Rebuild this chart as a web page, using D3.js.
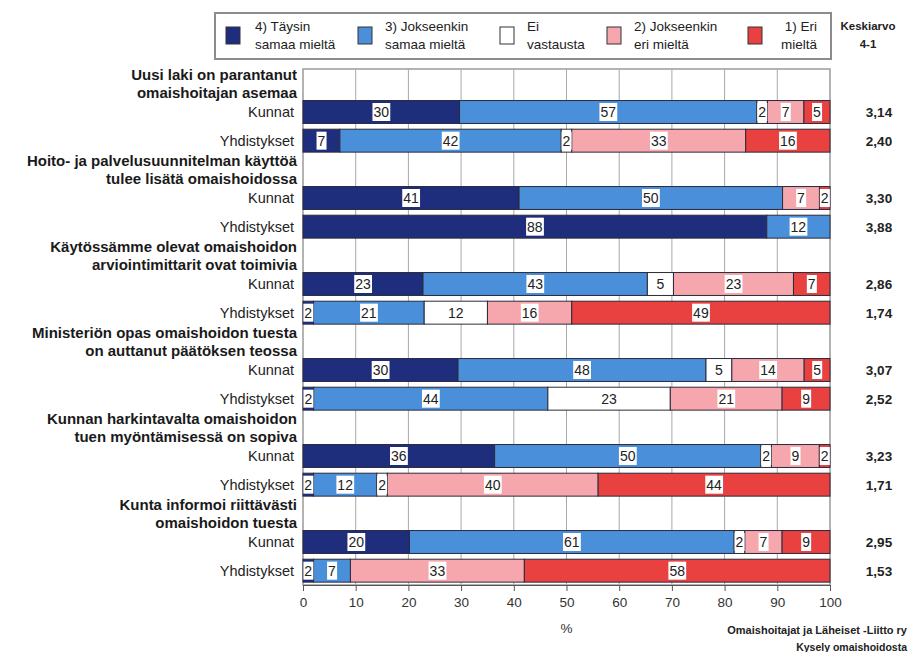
<!DOCTYPE html>
<html>
<head>
<meta charset="utf-8">
<script src="https://cdn.jsdelivr.net/npm/d3@7"></script>
<style>
  body { margin: 0; background: #fff; }
  text { font-family: "Liberation Sans", Arial, sans-serif; }
</style>
</head>
<body>
<svg id="chart" width="918" height="652"></svg>
<script>
// Statements (two-line titles), respondent groups and answer categories
const statements = [
  ["Uusi laki on parantanut", "omaishoitajan asemaa"],
  ["Hoito- ja palvelusuunnitelman käyttöä", "tulee lisätä omaishoidossa"],
  ["Käytössämme olevat omaishoidon", "arviointimittarit ovat toimivia"],
  ["Ministeriön opas omaishoidon tuesta", "on auttanut päätöksen teossa"],
  ["Kunnan harkintavalta omaishoidon", "tuen myöntämisessä on sopiva"],
  ["Kunta informoi riittävästi", "omaishoidon tuesta"]
];
const respondents = ["Kunnat", "Yhdistykset"];

const answerKeys = ["a4", "a3", "ei", "a2", "a1"];
const answerLabels = [
  ["4) Täysin", "samaa mieltä"],
  ["3) Jokseenkin", "samaa mieltä"],
  ["Ei", "vastausta"],
  ["2) Jokseenkin", "eri mieltä"],
  ["1) Eri", "mieltä"]
];
const answerColors = ["#1e2e7d", "#4a8fd9", "#ffffff", "#f6a6ad", "#e8413f"];

// Shares (%) per bar, in order: statement 1 Kunnat, statement 1 Yhdistykset, ...
const fullyAgree       = [30,  7, 41, 88, 23,  2, 30,  2, 36,  2, 20,  2];
const somewhatAgree    = [57, 42, 50, 12, 43, 21, 48, 44, 50, 12, 61,  7];
const noAnswer         = [ 2,  2,  0,  0,  5, 12,  5, 23,  2,  2,  2,  0];
const somewhatDisagree = [ 7, 33,  7,  0, 23, 16, 14, 21,  9, 40,  7, 33];
const disagree         = [ 5, 16,  2,  0,  7, 49,  5,  9,  2, 44,  9, 58];
const averages = ["3,14", "2,40", "3,30", "3,88", "2,86", "1,74",
                  "3,07", "2,52", "3,23", "1,71", "2,95", "1,53"];

const xTicks = [0, 10, 20, 30, 40, 50, 60, 70, 80, 90, 100];

// ---- layout ----
const svg = d3.select("#chart");
const plot = { left: 303, right: 830, top: 69, bottom: 585 };

const x = d3.scaleLinear().domain([0, 100]).range([plot.left, plot.right]);
// three slots per statement: title line, Kunnat bar, Yhdistykset bar
const y = d3.scaleBand()
  .domain(d3.range(statements.length * 3))
  .range([plot.top, plot.bottom]);
const barH = y.bandwidth() * 0.8;

const rows = [];
statements.forEach((s, i) => {
  respondents.forEach((r, j) => {
    const k = i * 2 + j;
    rows.push({
      statement: i, respondent: r, slot: i * 3 + 1 + j, avg: averages[k],
      a4: fullyAgree[k], a3: somewhatAgree[k], ei: noAnswer[k],
      a2: somewhatDisagree[k], a1: disagree[k]
    });
  });
});

const series = d3.stack().keys(answerKeys).offset(d3.stackOffsetExpand)(rows);

// ---- legend ----
const legend = svg.append("g");
legend.append("rect")
  .attr("x", 215).attr("y", 13).attr("width", 616).attr("height", 46)
  .attr("fill", "#fff").attr("stroke", "#8c8c8c").attr("stroke-width", 2);
const legendX = [226, 358, 500, 607, 748];
answerKeys.forEach((k, i) => {
  const g = legend.append("g").attr("transform", `translate(${legendX[i]},0)`);
  g.append("rect").attr("x", 0).attr("y", 27).attr("width", 14).attr("height", 17)
    .attr("fill", answerColors[i]).attr("stroke", "#333").attr("stroke-width", 1);
  const t = g.append("text").attr("font-size", 13.5).attr("fill", "#222");
  const anchorEnd = i === 4;
  t.attr("text-anchor", anchorEnd ? "end" : "start");
  answerLabels[i].forEach((line, li) => {
    t.append("tspan").attr("x", anchorEnd ? 69 : (i === 0 ? 29 : 27))
      .attr("y", 31 + li * 18).text(line);
  });
});
svg.append("text").attr("x", 868).attr("y", 30).attr("text-anchor", "middle")
  .attr("font-size", 11.5).attr("font-weight", "bold").attr("fill", "#222").text("Keskiarvo");
svg.append("text").attr("x", 868).attr("y", 48).attr("text-anchor", "middle")
  .attr("font-size", 11.5).attr("font-weight", "bold").attr("fill", "#222").text("4-1");

// ---- plot background, grid ----
svg.append("rect")
  .attr("x", plot.left).attr("y", plot.top)
  .attr("width", plot.right - plot.left).attr("height", plot.bottom - plot.top)
  .attr("fill", "#fff").attr("stroke", "#9a9a9a").attr("stroke-width", 1.5);
svg.append("g").selectAll("line")
  .data(xTicks.slice(1, -1))
  .join("line")
  .attr("x1", d => x(d)).attr("x2", d => x(d))
  .attr("y1", plot.top).attr("y2", plot.bottom)
  .attr("stroke", "#a8a8a8").attr("stroke-width", 1);

// ---- bars ----
const barsG = svg.append("g");
series.forEach((s, si) => {
  barsG.append("g").selectAll("rect")
    .data(s.filter(d => d[1] > d[0]))
    .join("rect")
    .attr("x", d => x(d[0] * 100))
    .attr("width", d => x(d[1] * 100) - x(d[0] * 100))
    .attr("y", d => y(d.data.slot) + (y.bandwidth() - barH) / 2)
    .attr("height", barH)
    .attr("fill", answerColors[si])
    .attr("stroke", "#2b2b3a").attr("stroke-width", 1);
});

// value labels in white boxes
const labelsG = svg.append("g");
series.forEach((s, si) => {
  s.forEach(d => {
    const v = d.data[s.key];
    if (!v) return;
    const cx = x((d[0] + d[1]) / 2 * 100);
    const cy = y(d.data.slot) + y.bandwidth() / 2;
    const g = labelsG.append("g");
    const t = g.append("text").attr("x", cx).attr("y", cy + 5)
      .attr("text-anchor", "middle").attr("font-size", 14).attr("fill", "#222").text(v);
    const bb = t.node().getBBox();
    g.insert("rect", "text")
      .attr("x", bb.x - 1).attr("y", cy - 9).attr("width", bb.width + 2).attr("height", 18)
      .attr("fill", "#fff");
  });
});

// ---- y labels ----
const labG = svg.append("g").attr("fill", "#1a1a1a");
statements.forEach((s, i) => {
  const cy = y(i * 3) + y.bandwidth() / 2;
  s.forEach((line, li) => {
    labG.append("text").attr("x", 297).attr("y", cy - 3.5 + li * 18)
      .attr("text-anchor", "end").attr("font-size", 15).attr("font-weight", "bold")
      .text(line);
  });
});
rows.forEach(r => {
  const cy = y(r.slot) + y.bandwidth() / 2;
  labG.append("text").attr("x", 294).attr("y", cy + 5)
    .attr("text-anchor", "end").attr("font-size", 14.5).attr("fill", "#222").text(r.respondent);
  labG.append("text").attr("x", 879).attr("y", cy + 5)
    .attr("text-anchor", "middle").attr("font-size", 13.5).attr("font-weight", "bold")
    .attr("fill", "#222").text(r.avg);
});

// ---- x axis ----
const axis = svg.append("g").attr("transform", `translate(0,${plot.bottom})`)
  .call(d3.axisBottom(x).tickValues(xTicks).tickSize(6).tickPadding(6));
axis.select(".domain").attr("stroke", "#555");
axis.selectAll(".tick line").attr("stroke", "#555");
axis.selectAll(".tick text").attr("font-size", 13.5).attr("fill", "#333")
  .attr("font-family", "Liberation Sans, Arial, sans-serif");
svg.append("text").attr("x", x(50)).attr("y", 633).attr("text-anchor", "middle")
  .attr("font-size", 13.5).attr("fill", "#333").text("%");

// ---- source ----
svg.append("text").attr("x", 907).attr("y", 634).attr("text-anchor", "end")
  .attr("font-size", 11).attr("font-weight", "bold").attr("fill", "#222")
  .text("Omaishoitajat ja Läheiset -Liitto ry");
svg.append("text").attr("x", 907).attr("y", 651).attr("text-anchor", "end")
  .attr("font-size", 10.5).attr("font-weight", "bold").attr("fill", "#222")
  .text("Kysely omaishoidosta");
</script>
</body>
</html>
